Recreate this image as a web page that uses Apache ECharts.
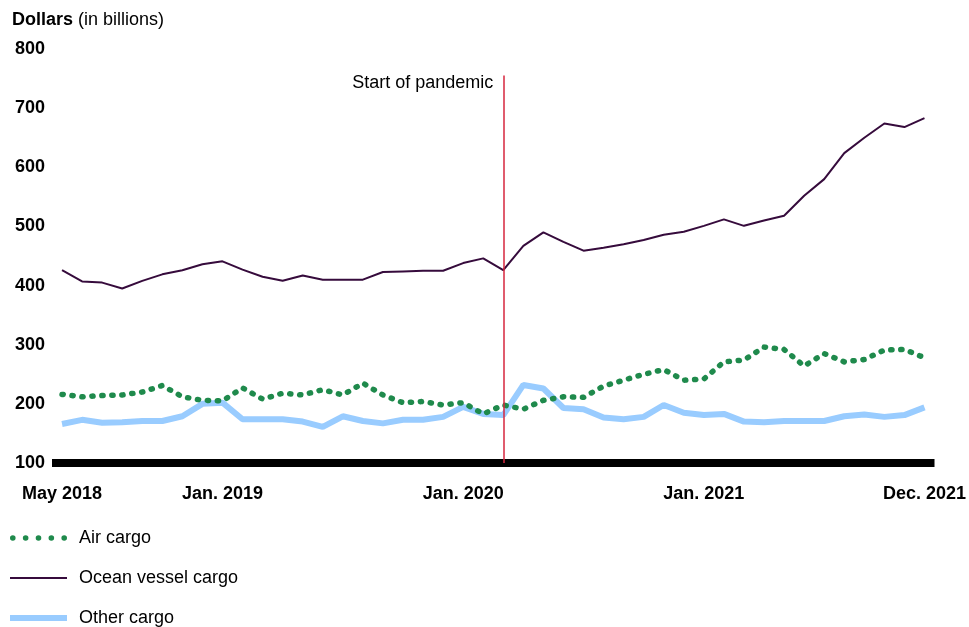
<!DOCTYPE html>
<html>
<head>
<meta charset="utf-8">
<script src="https://cdn.jsdelivr.net/npm/echarts@6/dist/echarts.min.js"></script>
<style>
  html, body { margin: 0; padding: 0; background: #fff; }
  #chart { width: 969px; height: 627px; }
</style>
</head>
<body>
<div id="chart"></div>
<script>
// Monthly cargo values, May 2018 through Dec. 2021 (billions of dollars)
const months = [
  'May 2018','Jun 2018','Jul 2018','Aug 2018','Sep 2018','Oct 2018','Nov 2018','Dec 2018',
  'Jan 2019','Feb 2019','Mar 2019','Apr 2019','May 2019','Jun 2019','Jul 2019','Aug 2019',
  'Sep 2019','Oct 2019','Nov 2019','Dec 2019',
  'Jan 2020','Feb 2020','Mar 2020','Apr 2020','May 2020','Jun 2020','Jul 2020','Aug 2020',
  'Sep 2020','Oct 2020','Nov 2020','Dec 2020',
  'Jan 2021','Feb 2021','Mar 2021','Apr 2021','May 2021','Jun 2021','Jul 2021','Aug 2021',
  'Sep 2021','Oct 2021','Nov 2021','Dec 2021'
];

const airCargo = [
  216, 212, 214, 215, 220, 231, 212, 206, 205, 227, 208, 218, 215, 224, 215, 235,
  215, 202, 204, 198, 202, 183, 198, 191, 206, 212, 211, 230, 240, 250, 258, 240,
  242, 271, 274, 296, 292, 264, 285, 271, 275, 291, 292, 278
];

const oceanCargo = [
  426, 407, 405, 395, 408, 419, 426, 436, 441, 427, 415, 408, 417, 410, 410, 410,
  423, 424, 425, 425, 438, 446, 426, 467, 490, 474, 459, 464, 470, 477, 486, 491,
  501, 512, 501, 510, 518, 552, 580, 624, 650, 674, 668, 683
];

const otherCargo = [
  166, 173, 168, 169, 171, 171, 179, 200, 202, 174, 174, 174, 170, 161, 179, 171,
  167, 173, 173, 178, 195, 183, 181, 232, 226, 193, 191, 177, 174, 178, 198, 185,
  181, 183, 170, 169, 171, 171, 171, 179, 182, 178, 181, 194
];

// Month labels shown under the axis
const tickLabels = {
  'May 2018': 'May 2018',
  'Jan 2019': 'Jan. 2019',
  'Jan 2020': 'Jan. 2020',
  'Jan 2021': 'Jan. 2021',
  'Dec 2021': 'Dec. 2021'
};

const pandemicMonth = 'Mar 2020';
const yTicks = { min: 100, max: 800, step: 100 };

const FONT = '"Liberation Sans", Arial, sans-serif';

// Legend swatches: a row of dots, a thin rule and a thick rule
function dotRow(n, r, gap) {
  let p = '';
  for (let i = 0; i < n; i++) {
    const cx = r + i * gap;
    p += `M${cx - r},${r} A${r},${r} 0 1,0 ${cx + r},${r} A${r},${r} 0 1,0 ${cx - r},${r} Z `;
  }
  return 'path://' + p;
}
const ICON_W = 57;
const airIcon = dotRow(5, 2.8, (ICON_W - 5.6) / 4);
const oceanIcon = `path://M0,0 H${ICON_W} V2 H0 Z`;
const otherIcon = `path://M0,0 H${ICON_W} V6 H0 Z`;

const chart = echarts.init(document.getElementById('chart'), null, { renderer: 'canvas' });

chart.setOption({
  animation: false,
  backgroundColor: '#ffffff',
  textStyle: { fontFamily: FONT },
  title: {
    left: 12,
    top: 11,
    padding: 0,
    text: '{b|Dollars} {n|(in billions)}',
    textStyle: {
      rich: {
        b: { fontFamily: FONT, fontSize: 18, fontWeight: 'bold', color: '#000' },
        n: { fontFamily: FONT, fontSize: 18, fontWeight: 'normal', color: '#000' }
      }
    }
  },
  grid: { left: 52, right: 34, top: 49, bottom: 164, containLabel: false },
  legend: {
    orient: 'vertical',
    left: 10,
    top: 529,
    padding: 0,
    height: 200,
    itemWidth: ICON_W,
    itemHeight: 14,
    itemGap: 22,
    symbolKeepAspect: true,
    textStyle: { fontFamily: FONT, fontSize: 18, color: '#000', padding: [0, 0, 0, 7] },
    data: [
      { name: 'Air cargo', icon: airIcon },
      { name: 'Ocean vessel cargo', icon: oceanIcon },
      { name: 'Other cargo', icon: otherIcon }
    ]
  },
  xAxis: {
    type: 'category',
    data: months,
    boundaryGap: true,
    axisLine: { show: true, onZero: false, lineStyle: { color: '#000', width: 8, cap: 'butt' } },
    axisTick: { show: false },
    axisLabel: {
      interval: (i, v) => v in tickLabels,
      formatter: v => tickLabels[v] || '',
      margin: 22,
      fontFamily: FONT,
      fontSize: 18,
      fontWeight: 'bold',
      color: '#000'
    },
    splitLine: { show: false }
  },
  yAxis: {
    type: 'value',
    min: yTicks.min,
    max: yTicks.max,
    interval: yTicks.step,
    axisLine: { show: false },
    axisTick: { show: false },
    splitLine: { show: false },
    axisLabel: {
      margin: 7,
      fontFamily: FONT,
      fontSize: 18,
      fontWeight: 'bold',
      color: '#000'
    }
  },
  series: [
    {
      name: 'Air cargo',
      type: 'line',
      data: airCargo,
      symbol: 'none',
      z: 3,
      itemStyle: { color: '#1f8a4c' },
      lineStyle: { color: '#1f8a4c', width: 5.5, type: [1.2, 8.8], cap: 'round', join: 'round' }
    },
    {
      name: 'Ocean vessel cargo',
      type: 'line',
      data: oceanCargo,
      symbol: 'none',
      z: 4,
      itemStyle: { color: '#360b3c' },
      lineStyle: { color: '#360b3c', width: 2 },
      markLine: {
        silent: true,
        symbol: 'none',
        label: { show: false },
        lineStyle: { color: '#d6263e', width: 1.5, type: 'solid' },
        data: [[
          { coord: [pandemicMonth, 755] },
          { coord: [pandemicMonth, 100] }
        ]]
      },
      markPoint: {
        silent: true,
        symbol: 'circle',
        symbolSize: 0,
        data: [{ coord: [pandemicMonth, 742] }],
        label: {
          show: true,
          position: 'left',
          distance: 10,
          formatter: 'Start of pandemic',
          fontFamily: FONT,
          fontSize: 18,
          color: '#000'
        }
      }
    },
    {
      name: 'Other cargo',
      type: 'line',
      data: otherCargo,
      symbol: 'none',
      z: 2,
      itemStyle: { color: '#99ccff' },
      lineStyle: { color: '#99ccff', width: 6 }
    }
  ]
});
</script>
</body>
</html>
